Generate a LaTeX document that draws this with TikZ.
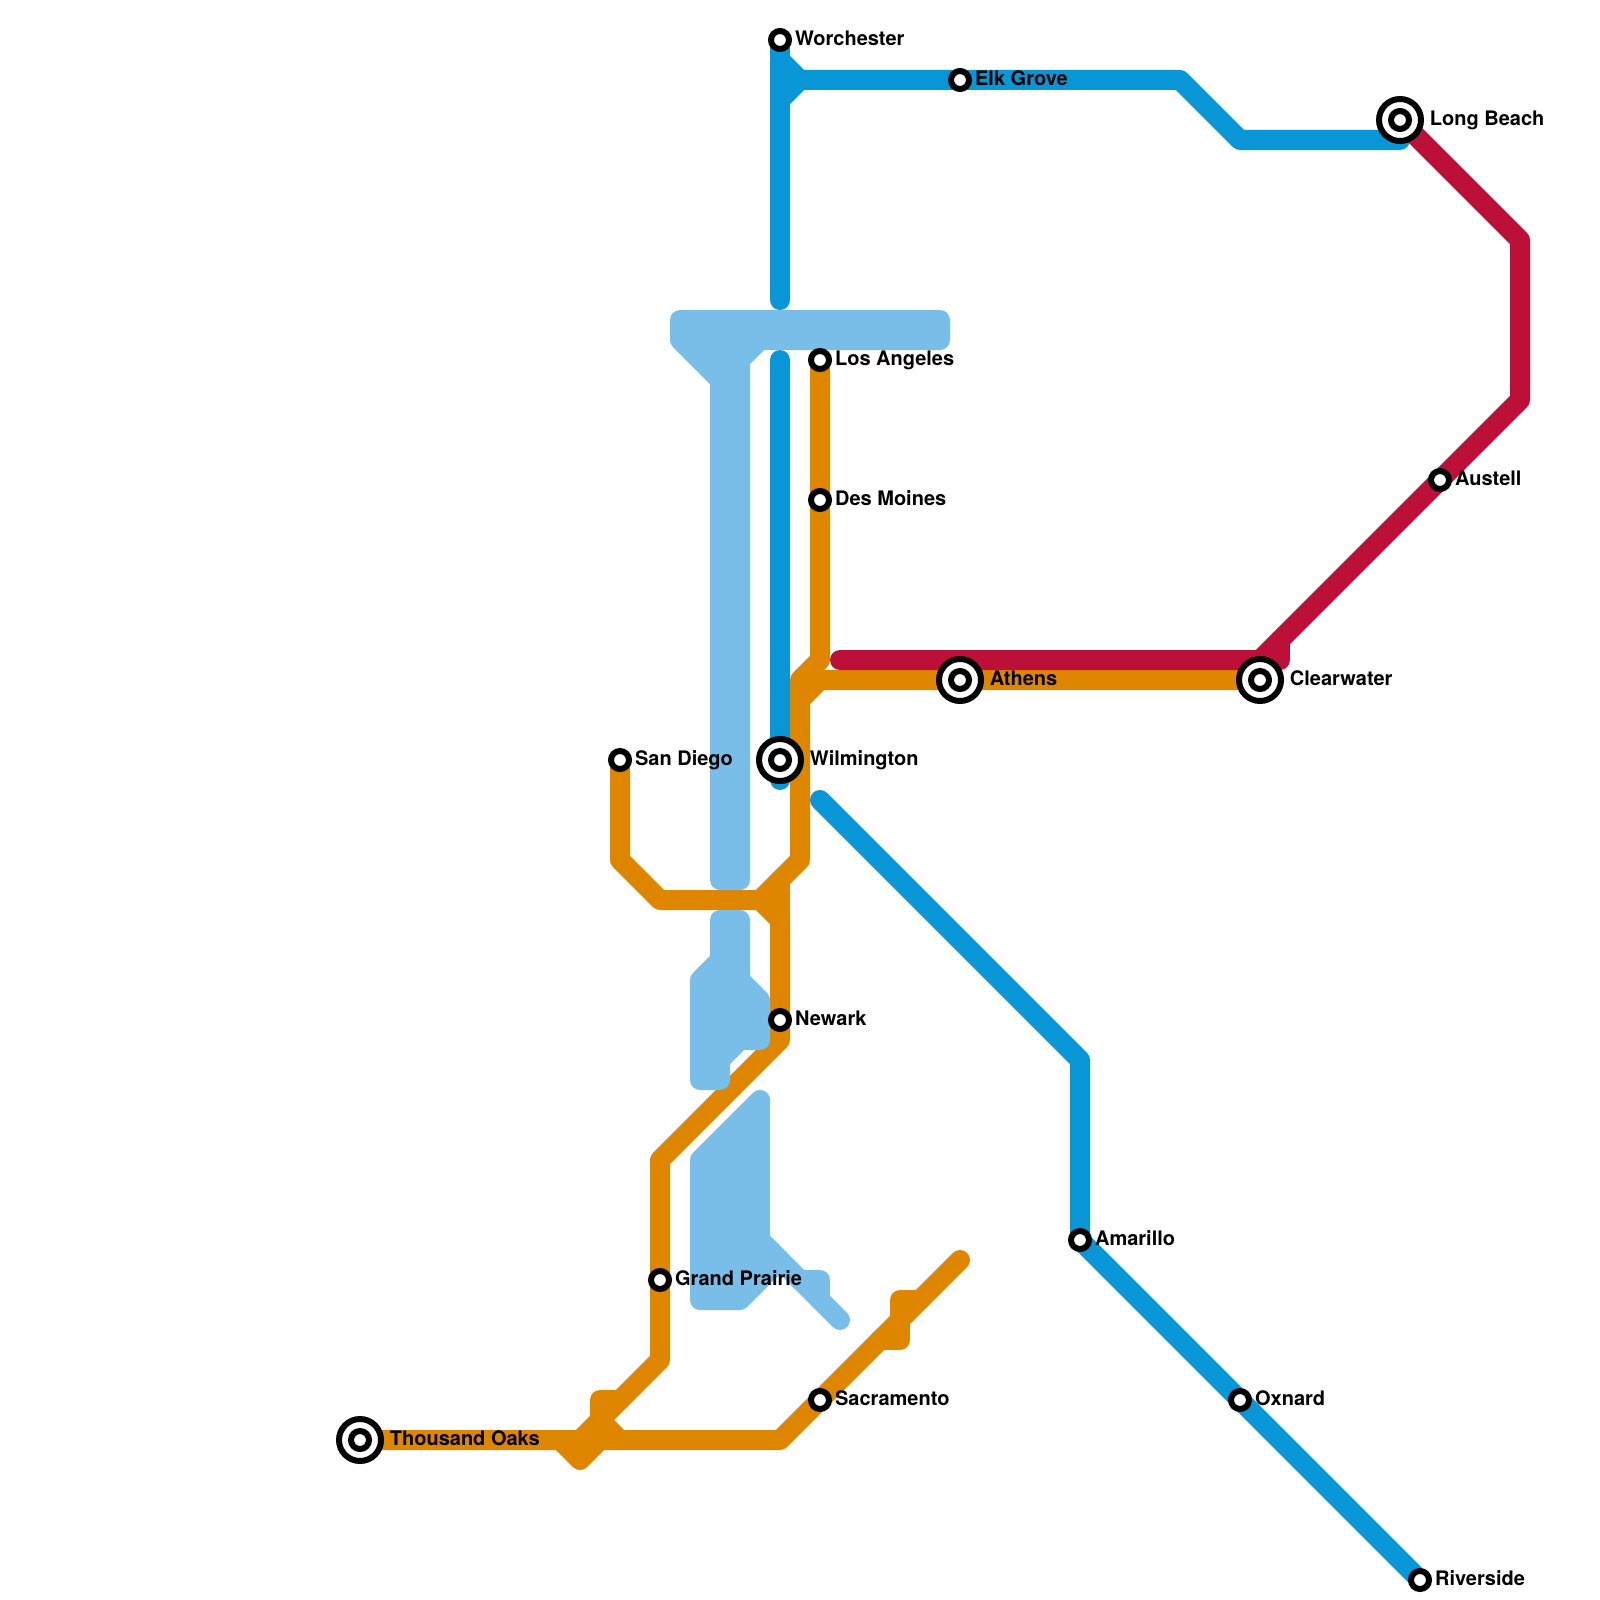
\documentclass[tikz,border=0pt]{standalone}
\usepackage{fontspec}
\setmainfont{TeX Gyre Heros}
\usetikzlibrary{backgrounds}
\definecolor{linedark}{HTML}{0896D7}
\definecolor{linelight}{HTML}{79BDE9}
\definecolor{lineorange}{HTML}{DF8600}
\definecolor{linered}{HTML}{BD1038}
\tikzset{
  metro/.style={line width=10pt, line cap=round, line join=round},
  blob/.style={metro, draw=linelight, fill=linelight},
  station/.style={circle, draw=black, fill=white, line width=3pt, minimum size=9pt, inner sep=0pt, outer sep=0pt},
  hub/.style={circle, draw=black, fill=white, line width=3pt, minimum size=21pt, inner sep=0pt, outer sep=0pt},
  lbl/.style={anchor=base west, inner sep=0pt, font=\bfseries, xshift=7.35pt, yshift=-2.6pt},
  hublbl/.style={lbl, xshift=7.4pt}
}
\begin{document}
\begin{tikzpicture}[x=0.5pt, y=-0.5pt]
  \useasboundingbox (0,0) rectangle (1600,1600);

  \node[station] (worchester) at (780,40) {};
  \node[station] (elkgrove) at (960,80) {};
  \node[hub] (longbeach) at (1400,120) {};
  \node[station] (longbeachin) at (longbeach) {};
  \node[station] (losangeles) at (820,360) {};
  \node[station] (desmoines) at (820,500) {};
  \node[station] (austell) at (1440,480) {};
  \node[hub] (athens) at (960,680) {};
  \node[station] (athensin) at (athens) {};
  \node[hub] (clearwater) at (1260,680) {};
  \node[station] (clearwaterin) at (clearwater) {};
  \node[hub] (wilmington) at (780,760) {};
  \node[station] (wilmingtonin) at (wilmington) {};
  \node[station] (sandiego) at (620,760) {};
  \node[station] (newark) at (780,1020) {};
  \node[station] (amarillo) at (1080,1240) {};
  \node[station] (grandprairie) at (660,1280) {};
  \node[station] (sacramento) at (820,1400) {};
  \node[station] (oxnard) at (1240,1400) {};
  \node[hub] (thousandoaks) at (360,1440) {};
  \node[station] (thousandoaksin) at (thousandoaks) {};
  \node[station] (riverside) at (1420,1580) {};

  \node[lbl] (worchestertxt) at (worchester) {Worchester};
  \node[lbl] (elkgrovetxt) at (elkgrove) {Elk Grove};
  \node[hublbl] (longbeachtxt) at (longbeach) {Long Beach};
  \node[lbl] (losangelestxt) at (losangeles) {Los Angeles};
  \node[lbl] (desmoinestxt) at (desmoines) {Des Moines};
  \node[lbl] (austelltxt) at (austell) {Austell};
  \node[hublbl] (athenstxt) at (athens) {Athens};
  \node[hublbl] (clearwatertxt) at (clearwater) {Clearwater};
  \node[hublbl] (wilmingtontxt) at (wilmington) {Wilmington};
  \node[lbl] (sandiegotxt) at (sandiego) {San Diego};
  \node[lbl] (newarktxt) at (newark) {Newark};
  \node[lbl] (amarillotxt) at (amarillo) {Amarillo};
  \node[lbl] (grandprairietxt) at (grandprairie) {Grand Prairie};
  \node[lbl] (sacramentotxt) at (sacramento) {Sacramento};
  \node[lbl] (oxnardtxt) at (oxnard) {Oxnard};
  \node[hublbl] (thousandoakstxt) at (thousandoaks) {Thousand Oaks};
  \node[lbl] (riversidetxt) at (riverside) {Riverside};

  \begin{pgfonlayer}{background}
    % orange
    \draw[metro, lineorange] (losangeles.center) -- (desmoines.center) -- (820,660) -- (800,680) -- (800,860) -- (760,900) -- (660,900) -- (620,860) -- (sandiego.center);
    \draw[metro, lineorange] (800,700) -- (820,680) -- (athens.center) -- (clearwater.center);
    \draw[metro, lineorange] (760,900) -- (780,920) -- (newark.center) -- (780,1040) -- (660,1160) -- (grandprairie.center) -- (660,1360) -- (580,1440);
    \draw[metro, lineorange] (780,880) -- (780,920);
    \draw[metro, lineorange] (thousandoaks.center) -- (780,1440) -- (sacramento.center) -- (960,1260);
    \draw[metro, lineorange] (560,1440) -- (580,1460) -- (600,1440);
    \draw[metro, lineorange] (620,1400) -- (600,1400) -- (600,1420) -- (620,1440);
    \draw[metro, lineorange] (920,1300) -- (900,1300) -- (900,1340) -- (880,1340);

    % dark blue
    \draw[metro, linedark] (worchester.center) -- (780,300);
    \draw[metro, linedark] (780,60) -- (800,80);
    \draw[metro, linedark] (780,100) -- (800,80) -- (elkgrove.center) -- (1180,80) -- (1240,140) -- (1400,140);
    \draw[metro, linedark] (780,360) -- (wilmington.center) -- (780,780);
    \draw[metro, linedark] (820,800) -- (1080,1060) -- (amarillo.center) -- (oxnard.center) -- (riverside.center);

    % red
    \draw[metro, linered] (840,660) -- (1260,660) -- (austell.center) -- (1520,400) -- (1520,240) -- (longbeach.center);
    \draw[metro, linered] (1260,660) -- (1280,660) -- (1280,640);

    % light blue
    \draw[blob] (680,320) -- (940,320) -- (940,340) -- (760,340) -- (740,360) -- (740,880) -- (720,880) -- (720,380) -- (680,340) -- cycle;
    \draw[blob] (720,920) -- (740,920) -- (740,980) -- (760,1000) -- (760,1040) -- (740,1040) -- (720,1060) -- (720,1080) -- (700,1080) -- (700,980) -- (720,960) -- cycle;
    \draw[blob] (760,1100) -- (760,1240) -- (780,1260) -- (740,1300) -- (700,1300) -- (700,1160) -- cycle;
    \draw[metro, linelight] (760,1240) -- (840,1320);
    \draw[metro, linelight] (800,1280) -- (820,1280) -- (820,1300);
  \end{pgfonlayer}
\end{tikzpicture}
\end{document}
